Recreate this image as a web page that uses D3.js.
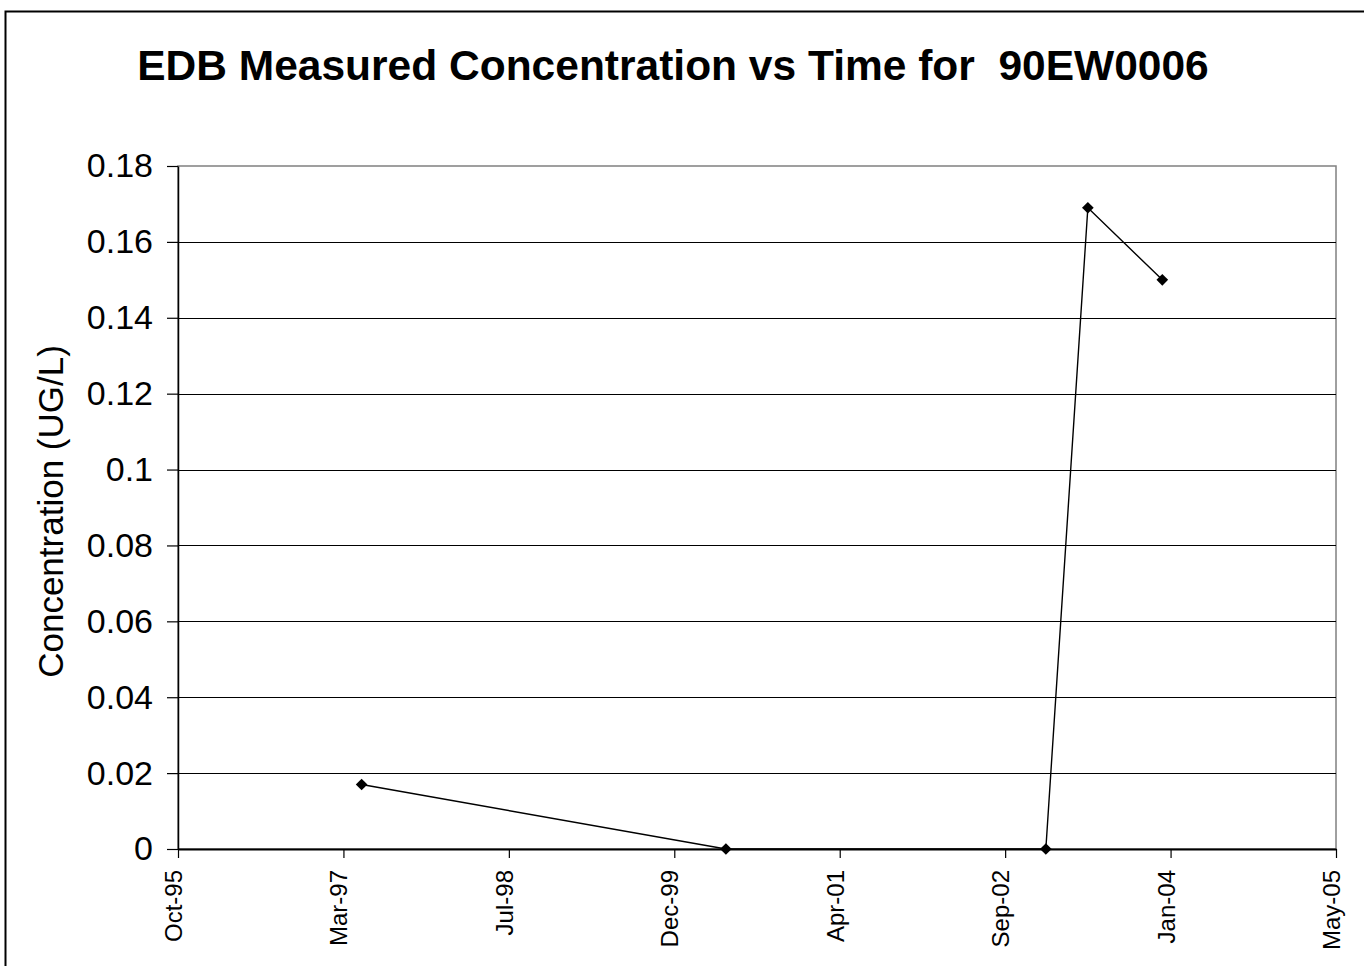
<!DOCTYPE html>
<html><head><meta charset="utf-8">
<script src="https://cdn.jsdelivr.net/npm/d3@7"></script>
<style>
html,body{margin:0;padding:0;background:#fff;overflow:hidden}
svg{display:block}
text{font-family:"Liberation Sans",Arial,sans-serif;fill:#000}
</style></head>
<body>
<script>
// Data
const sampleDates = ["1997-05-05","2000-05-10","2003-01-02","2003-05-09","2003-12-20"];
const concentrations = [0.017, 0, 0, 0.169, 0.15];
const xTickDates = ["1995-10-28","1997-03-11","1998-07-24","1999-12-06","2001-04-19","2002-09-01","2004-01-14","2005-05-28"];
const xTickLabels = ["Oct-95","Mar-97","Jul-98","Dec-99","Apr-01","Sep-02","Jan-04","May-05"];
const yTicks = [0,0.02,0.04,0.06,0.08,0.1,0.12,0.14,0.16,0.18];
const yTickLabels = ["0","0.02","0.04","0.06","0.08","0.1","0.12","0.14","0.16","0.18"];
const titleText = "EDB Measured Concentration vs Time for  90EW0006";
const yTitle = "Concentration (UG/L)";

const W = 1364, H = 966;
const plot = {l:178, r:1336, t:166, b:849};
const parse = d3.utcParse("%Y-%m-%d");
const tickDates = xTickDates.map(parse);
const pts = sampleDates.map((d,i)=>({date:parse(d), v:concentrations[i]}));

const svg = d3.select("body").append("svg").attr("width",W).attr("height",H);

// outer border
svg.append("rect").attr("x",5.5).attr("y",11.5).attr("width",1400).attr("height",1000)
  .attr("fill","#fff").attr("stroke","#000").attr("stroke-width",2);

const x = d3.scaleUtc().domain([tickDates[0], tickDates[tickDates.length-1]]).range([plot.l, plot.r]);
const y = d3.scaleLinear().domain([0,0.18]).range([plot.b, plot.t]);

// plot area border (gray)
svg.append("rect").attr("x",plot.l).attr("y",plot.t).attr("width",plot.r-plot.l).attr("height",plot.b-plot.t)
  .attr("fill","none").attr("stroke","#808080").attr("stroke-width",1.5);

// gridlines
svg.append("g").selectAll("line").data(yTicks.filter(v=>v>0 && v<0.18)).join("line")
  .attr("x1",plot.l).attr("x2",plot.r)
  .attr("y1",d=>Math.round(y(d))+0.5).attr("y2",d=>Math.round(y(d))+0.5)
  .attr("stroke","#000").attr("stroke-width",1.2);

// Y axis
const yAxis = d3.axisLeft(y).tickValues(yTicks).tickSizeInner(11).tickSizeOuter(0).tickPadding(14)
  .tickFormat((d,i)=>yTickLabels[i]);
const gy = svg.append("g").attr("transform",`translate(${plot.l},0)`).call(yAxis);
gy.select(".domain").attr("stroke","#000").attr("stroke-width",1.5);
gy.selectAll(".tick line").attr("stroke","#000").attr("stroke-width",1.2);
gy.selectAll(".tick text").attr("font-size",34).attr("font-family","Liberation Sans, Arial, sans-serif").attr("fill","#000");

// X axis
const xAxis = d3.axisBottom(x).tickValues(tickDates).tickSizeInner(9).tickSizeOuter(0).tickPadding(12)
  .tickFormat((d,i)=>xTickLabels[i]);
const gx = svg.append("g").attr("transform",`translate(0,${plot.b})`).call(xAxis);
gx.select(".domain").attr("stroke","#000").attr("stroke-width",2);
gx.selectAll(".tick line").attr("stroke","#000").attr("stroke-width",1.2);
gx.selectAll(".tick text")
  .attr("font-size",24).attr("font-family","Liberation Sans, Arial, sans-serif").attr("fill","#000")
  .attr("text-anchor","end").attr("dy",null).attr("y",0).attr("x",0)
  .attr("transform","translate(-5,21) rotate(-90)")
  .attr("dominant-baseline","central");

// line
const line = d3.line().x(d=>x(d.date)).y(d=>y(d.v));
svg.append("path").datum(pts).attr("d",line).attr("fill","none").attr("stroke","#000").attr("stroke-width",1.4);

// markers (diamonds)
svg.append("g").selectAll("path").data(pts).join("path")
  .attr("d",d3.symbol().type(d3.symbolSquare).size(68)())
  .attr("transform",d=>`translate(${x(d.date)},${y(d.v)}) rotate(45)`)
  .attr("fill","#000");

// title
svg.append("text").attr("x",673).attr("y",80).attr("text-anchor","middle")
  .attr("xml:space","preserve").style("white-space","pre")
  .attr("font-size",42.5).attr("font-weight","bold").text(titleText);

// y title
svg.append("text").attr("transform",`translate(63,${(345+678)/2}) rotate(-90)`)
  .attr("text-anchor","middle").attr("font-size",35).text(yTitle);
</script>
</body></html>
